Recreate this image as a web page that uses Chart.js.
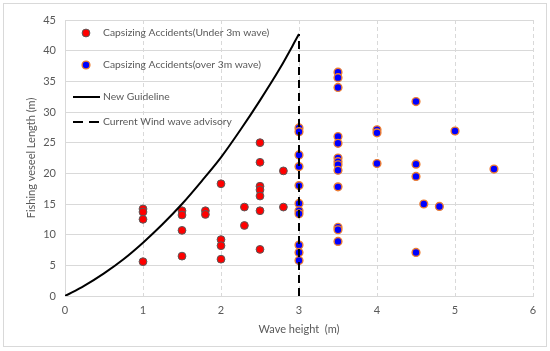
<!DOCTYPE html>
<html>
<head>
<meta charset="utf-8">
<script src="https://cdn.jsdelivr.net/npm/chart.js@4.4.1/dist/chart.umd.min.js"></script>
<style>
  html, body { margin: 0; padding: 0; background: #fff; }
  #wrap { width: 550px; height: 351px; }
</style>
</head>
<body>
<div id="wrap"><canvas id="myChart"></canvas></div>
<script>
// capsizing accidents, wave under 3 m
const underWave = [1, 1, 1, 1, 1.5, 1.5, 1.5, 1.5, 1.8, 1.8, 2, 2, 2, 2, 2.3, 2.3,
	2.5, 2.5, 2.5, 2.5, 2.5, 2.5, 2.5, 2.8, 2.8];
const underLength = [14.2, 13.7, 12.5, 5.6, 13.9, 13.2, 10.7, 6.5, 13.9, 13.3, 18.3, 9.2, 8.2, 6.0, 14.5, 11.5,
	25.0, 21.8, 17.9, 17.3, 16.3, 13.9, 7.6, 20.4, 14.5];

// capsizing accidents, wave over 3 m
const overWave = [3, 3, 3, 3, 3, 3, 3, 3, 3, 3, 3,
	3.5, 3.5, 3.5, 3.5, 3.5, 3.5, 3.5, 3.5, 3.5, 3.5, 3.5, 3.5, 3.5,
	4, 4, 4, 4.5, 4.5, 4.5, 4.5, 4.6, 4.8, 5, 5.5];
const overLength = [27.4, 26.8, 23.0, 21.1, 18.0, 15.1, 13.9, 13.4, 8.3, 7.1, 5.8,
	36.5, 35.6, 34.0, 26.0, 24.9, 22.5, 21.9, 21.4, 20.5, 17.8, 11.2, 10.8, 8.9,
	27.1, 26.6, 21.6, 31.7, 21.5, 19.5, 7.1, 15.0, 14.6, 26.9, 20.7];

// new guideline curve
const guideWave = [0, 0.25, 0.5, 0.75, 1, 1.25, 1.5, 1.75, 2, 2.25, 2.5, 2.75, 3];
const guideLength = [0, 1.7, 3.7, 6.0, 8.7, 11.7, 15.0, 18.7, 22.6, 27.1, 31.9, 37.0, 42.7];

// current wind wave advisory
const advisoryWave = [3, 3];
const advisoryLength = [0, 42.7];

const xTicks = [0, 1, 2, 3, 4, 5, 6];
const yTicks = [0, 5, 10, 15, 20, 25, 30, 35, 40, 45];

const pairs = (xs, ys) => xs.map((x, i) => ({ x: x, y: ys[i] }));

const textColor = '#595959';
const gridColor = '#d9d9d9';
const legendRows = [33, 65, 97, 122];

const frame = {
	id: 'frame',
	beforeDraw(chart) {
		const ctx = chart.ctx;
		ctx.save();
		ctx.fillStyle = '#fff';
		ctx.fillRect(0, 0, chart.width, chart.height);
		ctx.strokeStyle = '#d9d9d9';
		ctx.lineWidth = 1;
		ctx.strokeRect(3.5, 3.5, 543, 343);
		ctx.restore();
	},
};

const insideLegend = {
	id: 'insideLegend',
	afterDraw(chart) {
		const ctx = chart.ctx;
		ctx.save();
		ctx.font = '10.3px Lato';
		ctx.textBaseline = 'middle';
		chart.data.datasets.forEach((ds, i) => {
			const y = legendRows[i];
			if (ds.showLine) {
				ctx.strokeStyle = ds.borderColor;
				ctx.lineWidth = ds.borderWidth;
				ctx.setLineDash(ds.borderDash ? [10, 6] : []);
				ctx.beginPath();
				ctx.moveTo(73, y);
				ctx.lineTo(100, y);
				ctx.stroke();
				ctx.setLineDash([]);
			} else {
				ctx.beginPath();
				ctx.arc(86, y, ds.pointRadius, 0, Math.PI * 2);
				ctx.fillStyle = ds.pointBackgroundColor;
				ctx.fill();
				ctx.strokeStyle = ds.pointBorderColor;
				ctx.lineWidth = ds.pointBorderWidth;
				ctx.stroke();
			}
			ctx.fillStyle = textColor;
			ctx.fillText(ds.label, 103, y);
		});
		ctx.restore();
	},
};

const data = {
	datasets: [
		{
			label: 'Capsizing Accidents(Under 3m wave)',
			data: pairs(underWave, underLength),
			pointRadius: 3.9,
			pointBackgroundColor: '#ff0000',
			pointBorderColor: '#5a5a5a',
			pointBorderWidth: 1,
			order: 3,
		},
		{
			label: 'Capsizing Accidents(over 3m wave)',
			data: pairs(overWave, overLength),
			pointRadius: 3.9,
			pointBackgroundColor: '#0000ff',
			pointBorderColor: '#ed7d31',
			pointBorderWidth: 1.4,
			order: 2,
		},
		{
			label: 'New Guideline',
			data: pairs(guideWave, guideLength),
			showLine: true,
			borderColor: '#000',
			borderWidth: 2,
			pointRadius: 0,
			cubicInterpolationMode: 'monotone',
			order: 1,
		},
		{
			label: 'Current Wind wave advisory',
			data: pairs(advisoryWave, advisoryLength),
			showLine: true,
			borderColor: '#000',
			borderWidth: 2,
			borderDash: [8, 5],
			pointRadius: 0,
			order: 0,
		},
	],
};

const config = {
	type: 'scatter',
	data: data,
	plugins: [frame, insideLegend],
	options: {
		responsive: false,
		animation: false,
		layout: {
			padding: { left: 0, top: 20, right: 17, bottom: 0 },
		},
		plugins: {
			legend: { display: false },
			tooltip: { enabled: false },
		},
		scales: {
			x: {
				type: 'linear',
				min: 0,
				max: 6,
				afterBuildTicks: (scale) => {
					scale.ticks = xTicks.map((v) => ({ value: v }));
				},
				afterFit: (scale) => {
					scale.height = 55;
				},
				grid: {
					color: (c) => (c.tick && c.tick.value === 0 ? 'rgba(0,0,0,0)' : gridColor),
					drawTicks: false,
				},
				border: { color: gridColor, dash: [4, 3] },
				ticks: {
					color: textColor,
					font: { family: 'Lato', size: 11 },
					padding: 8,
				},
				title: {
					display: true,
					text: 'Wave height  (m)',
					color: textColor,
					font: { family: 'Lato', size: 11 },
					padding: { top: 4, bottom: 15 },
				},
			},
			y: {
				type: 'linear',
				min: 0,
				max: 45,
				afterBuildTicks: (scale) => {
					scale.ticks = yTicks.map((v) => ({ value: v }));
				},
				afterFit: (scale) => {
					scale.width = 65;
				},
				grid: {
					color: gridColor,
					drawTicks: false,
				},
				border: { color: gridColor },
				ticks: {
					color: textColor,
					font: { family: 'Lato', size: 11 },
					padding: 9,
				},
				title: {
					display: true,
					text: 'Fishing veseel Length (m)',
					color: textColor,
					font: { family: 'Lato', size: 11 },
					padding: { top: 25, bottom: 4 },
				},
			},
		},
	},
};

const canvas = document.getElementById('myChart');
canvas.width = 550;
canvas.height = 351;
new Chart(canvas, config);
</script>
</body>
</html>
